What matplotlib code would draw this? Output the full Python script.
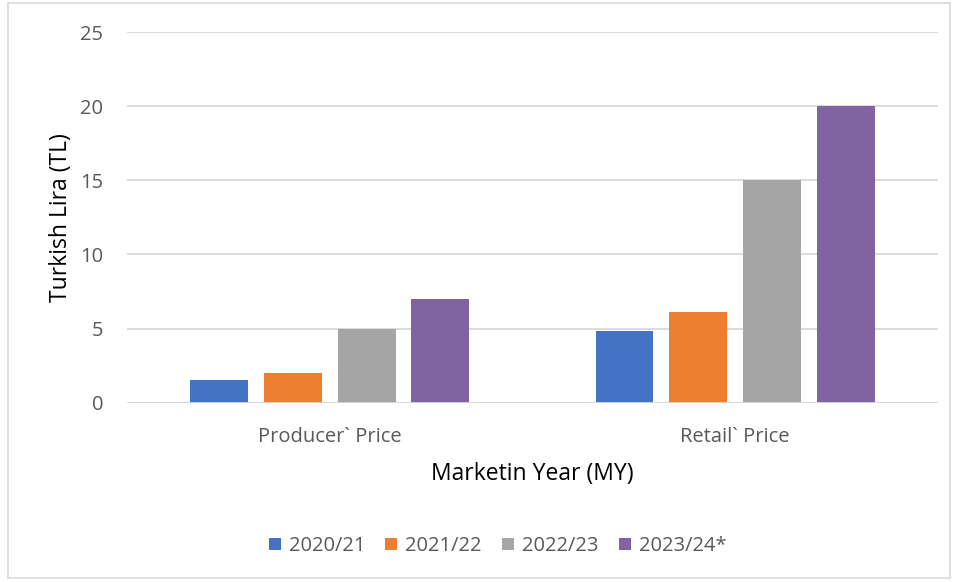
import numpy as np
import matplotlib.pyplot as plt
from matplotlib.patches import Rectangle

# data
categories = ["Producer` Price", "Retail` Price"]
years = ["2020/21", "2021/22", "2022/23", "2023/24*"]
values = {
    "2020/21": [1.5, 4.8],
    "2021/22": [2.0, 6.1],
    "2022/23": [5.0, 15.0],
    "2023/24*": [7.0, 20.0],
}
colors = ["#4472C4", "#ED7D31", "#A5A5A5", "#8064A2"]

plt.rcParams["font.family"] = ["Open Sans", "DejaVu Sans"]

fig = plt.figure(figsize=(9.58, 5.82), dpi=100)
ax = fig.add_axes([0.1326, 0.3084, 0.8464, 0.6358])

# outer border like the excel chart frame
fig.patches.append(Rectangle((0.008, 0.007), 0.984, 0.987, transform=fig.transFigure,
                             fill=False, edgecolor="#d9d9d9", linewidth=1.2))

x = np.arange(len(categories))
width = 0.143
step = 0.182
for i, year in enumerate(years):
    offset = (i - 1.5) * step
    ax.bar(x + offset, values[year], width, color=colors[i], label=year, zorder=3)

ax.set_xlim(-0.5, 1.5)
ax.set_ylim(0, 25)
ax.set_yticks([0, 5, 10, 15, 20, 25])
ax.set_xticks(x)
ax.set_xticklabels(categories)
ax.grid(axis="y", color="#d9d9d9", linewidth=1.3, zorder=0)
ax.axhline(0, color="#d9d9d9", linewidth=1.3, zorder=4)

for side in ["top", "right", "left", "bottom"]:
    ax.spines[side].set_visible(False)
ax.tick_params(axis="both", length=0, labelsize=14.5, labelcolor="#595959")
ax.tick_params(axis="y", pad=17)
ax.tick_params(axis="x", pad=17.5)

ax.set_ylabel("Turkish Lira (TL)", fontsize=16.5, labelpad=5)
ax.set_xlabel("Marketin Year (MY)", fontsize=16.5, labelpad=11)

leg = ax.legend(loc="upper center", bbox_to_anchor=(0.457, -0.312), ncol=4, frameon=False,
                fontsize=14.5, handlelength=0.6, handleheight=0.6, handletextpad=0.4,
                columnspacing=1.0)
for t in leg.get_texts():
    t.set_color("#595959")

plt.savefig("out.png", dpi=100)
